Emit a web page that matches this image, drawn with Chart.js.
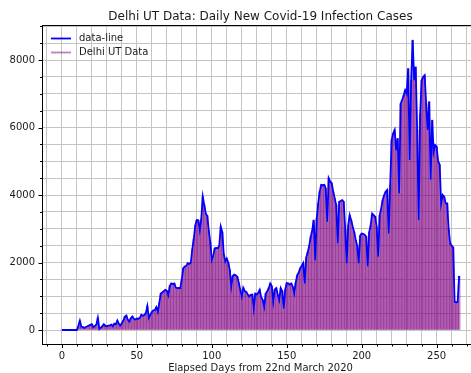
<!DOCTYPE html>
<html>
<head>
<meta charset="utf-8">
<title>Delhi UT Data</title>
<script src="https://cdn.jsdelivr.net/npm/chart.js@4/dist/chart.umd.min.js"></script>
<style>
  html, body { margin: 0; padding: 0; background: #fff; overflow: hidden; width: 471px; height: 373px; }
  #wrap { width: 490px; height: 373px; position: relative; }
</style>
</head>
<body>
<div id="wrap"><canvas id="c" width="490" height="373"></canvas></div>
<script>
// Daily new cases in Delhi, one value per day counted from 22 March 2020
const dailyCases = [
  0, 0, 0, 0, 0, 0, 0, 0, 0, 0,
  0, 120, 275, 95, 90, 60, 90, 110, 130, 150,
  170, 80, 120, 160, 360, 30, 70, 110, 170, 120,
  110, 130, 140, 160, 110, 190, 170, 280, 180, 130,
  200, 280, 390, 430, 300, 250, 350, 400, 330, 310,
  340, 330, 360, 450, 420, 440, 500, 710, 360, 450,
  530, 580, 590, 680, 540, 800, 1080, 1110, 1150, 1190,
  1160, 1030, 1300, 1380, 1360, 1380, 1260, 1240, 1250, 1240,
  1500, 1830, 1880, 1900, 1980, 1960, 1990, 2400, 2700, 3100,
  3260, 3250, 2960, 3300, 3950, 3700, 3450, 3380, 2950, 2600,
  2080, 2200, 2420, 2430, 2420, 2500, 3060, 2900, 2250, 2030,
  2120, 2000, 1780, 1290, 1600, 1640, 1620, 1580, 1400, 1190,
  990, 1250, 1150, 1130, 1050, 990, 1040, 1050, 640, 1080,
  1050, 1100, 1190, 960, 890, 690, 1080, 1150, 1240, 1380,
  1300, 840, 1200, 1240, 1050, 890, 1240, 1150, 640, 1200,
  1390, 1380, 1340, 1380, 1290, 1090, 1400, 1630, 1700, 1830,
  1900, 1980, 1380, 2150, 2300, 2500, 2760, 2950, 3260, 2070,
  3300, 3750, 4100, 4300, 4290, 4300, 4200, 3210, 4500, 4400,
  4350, 4100, 3900, 3700, 2570, 3800, 3820, 3850, 3800, 3000,
  1980, 3100, 3400, 3250, 3060, 2900, 2670, 2500, 1980, 2800,
  2860, 2850, 2820, 2770, 1880, 2900, 3100, 3450, 3400, 3360,
  3060, 2170, 3400, 3600, 3850, 4000, 4100, 4150, 2860, 4300,
  5630, 5830, 5930, 5330, 5680, 4050, 6700, 6820, 6950, 7110,
  7010, 7750, 5040, 7400, 8593, 7400, 7800, 5930, 3260, 6400,
  7400, 7500, 7550, 6700, 5930, 6770, 4450, 6220, 5280, 5480,
  5430, 5000, 4900, 3750, 4000, 3950, 3750, 3750, 3000, 2570,
  2500, 2450, 840, 820, 830, 1600
];

// Elapsed day numbers (x categories)
const days = [];
for (let i = 0; i < dailyCases.length; i++) days.push(i);

const xTickLabels = [0, 50, 100, 150, 200, 250];
const yTickLabels = [0, 2000, 4000, 6000, 8000];
const seriesNames = ['data-line', 'Delhi UT Data'];
const titleText = 'Delhi UT Data: Daily New Covid-19 Infection Cases';
const xAxisTitle = 'Elapsed Days from 22nd March 2020';

const points = days.map((d, i) => ({ x: d, y: dailyCases[i] }));

// axis limits with a 5% margin on each side
const lastDay = days[days.length - 1];
const peak = Math.max(...dailyCases);
const xMin = -0.05 * lastDay, xMax = lastDay * 1.05;
const yMin = -0.05 * peak, yMax = peak * 1.05;

const W = 490, H = 373;
const AREA = { left: 42, top: 25.5, right: 479, bottom: 344.5 };

const FONT = '"DejaVu Sans", Verdana, sans-serif';
const LINE_BLUE = '#0000ff';
const BAR_PURPLE = 'rgba(128, 0, 128, 0.5)';
const GRID = '#c4c4c4';

// minor grid every 10 days / every 500 cases
const xGrid = [];
for (let v = Math.ceil(xMin / 10) * 10; v <= xMax; v += 10) xGrid.push(v);
const yGrid = [];
for (let v = Math.ceil(yMin / 500) * 500; v <= yMax; v += 500) yGrid.push(v);

const decor = {
  id: 'decor',
  afterDraw(chart) {
    const { ctx, chartArea: a, scales } = chart;
    const x = scales.x, y = scales.y;
    ctx.save();

    // frame (left, bottom, top)
    ctx.strokeStyle = '#000';
    ctx.lineWidth = 1;
    ctx.beginPath();
    ctx.moveTo(a.left + 0.5, a.top);
    ctx.lineTo(a.left + 0.5, a.bottom + 0.5);
    ctx.moveTo(a.left, a.bottom);
    ctx.lineTo(W, a.bottom);
    ctx.moveTo(a.left, a.top);
    ctx.lineTo(W, a.top);
    ctx.stroke();

    // tick marks
    ctx.beginPath();
    xGrid.forEach(v => {
      const px = Math.round(x.getPixelForValue(v)) + 0.5;
      const len = xTickLabels.includes(v) ? 3.5 : 2;
      ctx.moveTo(px, a.bottom);
      ctx.lineTo(px, a.bottom + len);
    });
    yGrid.forEach(v => {
      const py = Math.round(y.getPixelForValue(v)) + 0.5;
      const len = yTickLabels.includes(v) ? 3.5 : 2;
      ctx.moveTo(a.left, py);
      ctx.lineTo(a.left - len, py);
    });
    ctx.stroke();

    // tick labels
    ctx.fillStyle = '#1a1a1a';
    ctx.font = '10px ' + FONT;
    ctx.textAlign = 'center';
    ctx.textBaseline = 'top';
    xTickLabels.forEach(v => ctx.fillText(String(v), x.getPixelForValue(v), a.bottom + 7));
    ctx.textAlign = 'right';
    ctx.textBaseline = 'middle';
    yTickLabels.forEach(v => ctx.fillText(String(v), a.left - 7, y.getPixelForValue(v)));

    // title and axis label
    const cx = (a.left + a.right) / 2;
    ctx.textAlign = 'center';
    ctx.textBaseline = 'alphabetic';
    ctx.font = '12px ' + FONT;
    ctx.fillText(titleText, cx, a.top - 6);
    ctx.font = '10px ' + FONT;
    ctx.fillText(xAxisTitle, cx, 371);

    // legend
    const rows = [
      { label: seriesNames[0], color: LINE_BLUE, yy: 38.5 },
      { label: seriesNames[1], color: BAR_PURPLE, yy: 52.5 }
    ];
    ctx.textAlign = 'left';
    ctx.textBaseline = 'middle';
    rows.forEach(r => {
      ctx.strokeStyle = r.color;
      ctx.lineWidth = 1.8;
      ctx.beginPath();
      ctx.moveTo(51, r.yy);
      ctx.lineTo(71, r.yy);
      ctx.stroke();
      ctx.fillStyle = '#1a1a1a';
      ctx.fillText(r.label, 79, r.yy);
    });
    ctx.restore();
  }
};

new Chart(document.getElementById('c'), {
  type: 'bar',
  data: {
    datasets: [
      {
        type: 'line',
        label: seriesNames[0],
        data: points,
        borderColor: LINE_BLUE,
        borderWidth: 1.8,
        pointRadius: 0,
        tension: 0,
        fill: false,
        order: 0
      },
      {
        type: 'bar',
        label: seriesNames[1],
        data: points,
        backgroundColor: BAR_PURPLE,
        borderWidth: 0,
        barThickness: 1.9,
        order: 1
      }
    ]
  },
  options: {
    responsive: false,
    animation: false,
    devicePixelRatio: 1,
    layout: { padding: { top: AREA.top, right: W - AREA.right, left: 0, bottom: 0 } },
    plugins: { legend: { display: false }, title: { display: false }, tooltip: { enabled: false } },
    scales: {
      x: {
        type: 'linear',
        min: xMin,
        max: xMax,
        bounds: 'data',
        offset: false,
        grid: { color: GRID, lineWidth: 1, drawTicks: false, offset: false },
        border: { display: false },
        ticks: { display: false },
        afterBuildTicks: s => { s.ticks = xGrid.map(v => ({ value: v })); },
        afterFit: s => { s.height = H - AREA.bottom; }
      },
      y: {
        type: 'linear',
        min: yMin,
        max: yMax,
        bounds: 'data',
        grid: { color: GRID, lineWidth: 1, drawTicks: false },
        border: { display: false },
        ticks: { display: false },
        afterBuildTicks: s => { s.ticks = yGrid.map(v => ({ value: v })); },
        afterFit: s => { s.width = AREA.left; }
      }
    }
  },
  plugins: [decor]
});
</script>
</body>
</html>
